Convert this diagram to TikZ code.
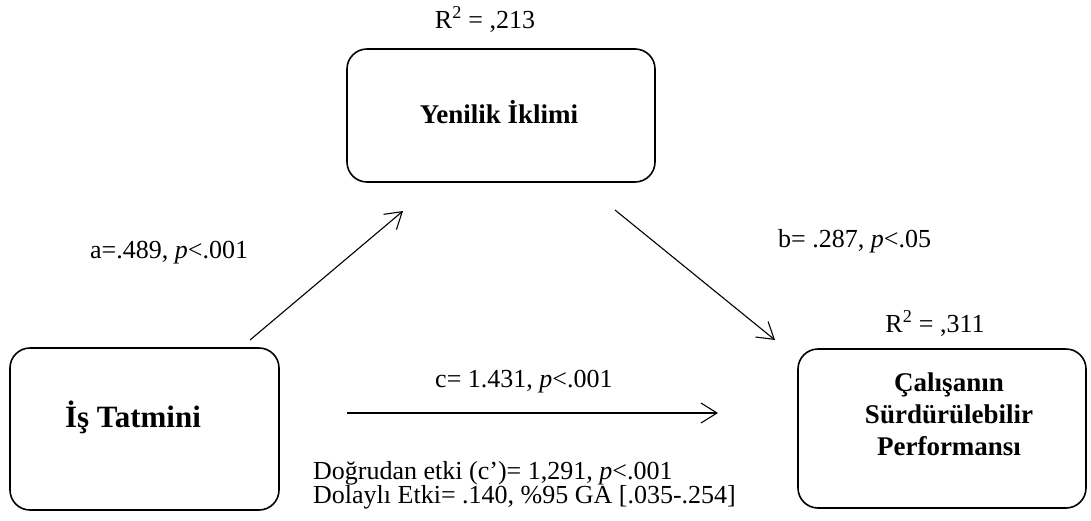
\documentclass[tikz,border=0pt]{standalone}
\usepackage{fontspec}
\setmainfont{Liberation Serif}
\usetikzlibrary{arrows.meta}
\tikzset{
  varbox/.style={draw,line width=1.6pt,rounded corners=20pt,inner sep=0pt},
  vname/.style={font=\fontsize{27}{32}\selectfont\bfseries,align=center,inner sep=0pt},
  lbl/.style={font=\fontsize{26}{24}\selectfont,inner sep=0pt},
  effect/.style={line width=1.1pt,-{Straight Barb[length=16pt,width=20pt,line width=1.1pt]}}
}

\begin{document}
\begin{tikzpicture}[x=1pt,y=-1pt]
\useasboundingbox (0,0) rectangle (1091,520);
% boxes
\node[varbox,minimum width=308pt,minimum height=133pt] (yen) at (501,115.5) {};
\node[varbox,minimum width=269pt,minimum height=162pt] (is) at (144.5,429) {};
\node[varbox,minimum width=288pt,minimum height=159pt] (perf) at (942,428.5) {};
\node[vname,anchor=base] (yenname) at (499,123) {Yenilik İklimi};
\node[vname,font=\fontsize{31}{32}\selectfont\bfseries,anchor=base] (isname) at (133,427) {İş Tatmini};
\node[vname] (perfname) at (949,414) {Çalışanın\\Sürdürülebilir\\Performansı};
% R squared
\node[lbl,anchor=base] (r2yen) at (485,28) {R\textsuperscript{2} = ,213};
\node[lbl,anchor=base] (r2perf) at (935,332) {R\textsuperscript{2} = ,311};
% paths
\coordinate (a0) at (250,340); \coordinate (a1) at (403,211);
\coordinate (b0) at (615,210); \coordinate (b1) at (775,340);
\coordinate (c0) at (347,413); \coordinate (c1) at (718,413);
\draw[effect] (a0) -- (a1);
\draw[effect] (b0) -- (b1);
\draw[effect] (c0) -- (c1);
\node[lbl,anchor=base west] (alab) at (90,258) {a=.489, \textit{p}<.001};
\node[lbl,anchor=base west] (blab) at (778,247) {b= .287, \textit{p}<.05};
\node[lbl,anchor=base west] (clab) at (435,387) {c= 1.431, \textit{p}<.001};
\node[lbl,anchor=north west,align=left] (effects) at (313,461) {Doğrudan etki (c’)= 1,291, \textit{p}<.001\\Dolaylı Etki= .140, \%95 GA [.035-.254]};
\end{tikzpicture}
\end{document}
